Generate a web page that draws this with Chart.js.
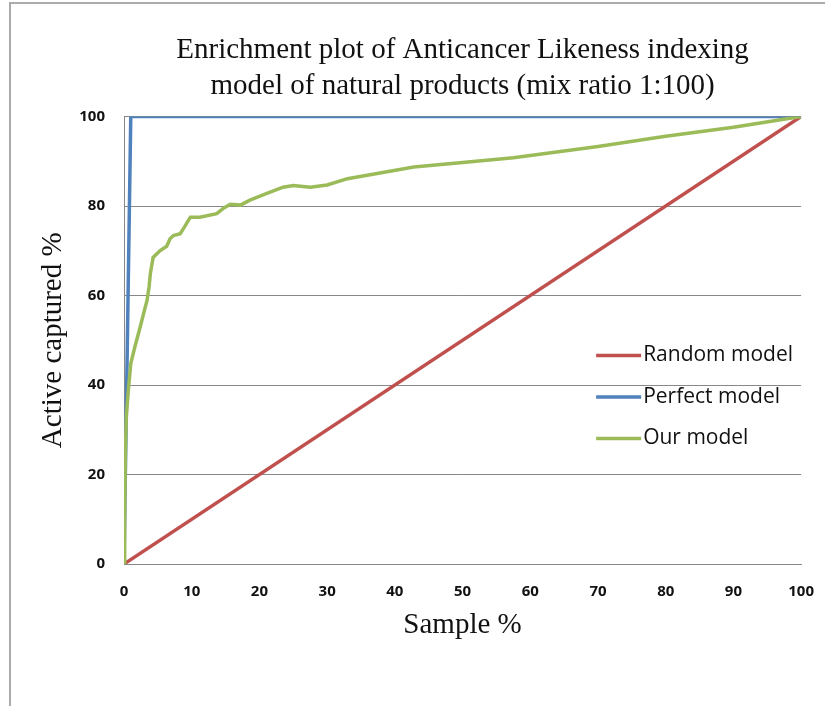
<!DOCTYPE html>
<html lang="en">
<head>
    <meta charset="UTF-8">
    <title>Enrichment plot</title>
    <script src="https://cdn.jsdelivr.net/npm/chart.js"></script>
    <style>
        body { margin: 0; background: #fff; }
        canvas { display: block; }
    </style>
</head>
<body>
    <canvas id="enrichChart" width="825" height="706"></canvas>
    <script>
        // Dados (Sample %, Active captured %)
        const seriesNames = ['Random model', 'Perfect model', 'Our model'];
        const seriesColors = ['#C0504D', '#4F81BD', '#9BBB59'];

        const randomX = [0, 100];
        const randomY = [0, 100];

        const perfectX = [0, 1, 100];
        const perfectY = [0, 100, 100];

        const ourX = [0, 0.1, 0.2, 0.35, 0.64, 1.0, 1.6, 2.4, 2.9, 3.4, 3.7, 3.9, 4.3, 5.3, 6.3, 6.8, 7.3,
            8.3, 8.8, 9.8, 11.2, 13.7, 14.7, 15.7, 17.2, 18.6, 21.1, 23.5, 25, 27.5, 30, 33, 42.8, 50,
            57.5, 70, 80, 90, 100];
        const ourY = [0, 10, 25, 33, 38.8, 44.8, 48.5, 53, 56, 58.9, 61.9, 65, 68.5, 70, 71, 72.7, 73.4,
            73.8, 75, 77.5, 77.5, 78.3, 79.5, 80.4, 80.2, 81.3, 82.8, 84.2, 84.6, 84.2, 84.7, 86.1, 88.7, 89.7,
            90.8, 93.3, 95.6, 97.6, 100];

        const xTicks = [0, 10, 20, 30, 40, 50, 60, 70, 80, 90, 100];
        const yTicks = [0, 20, 40, 60, 80, 100];

        function toPoints(xs, ys) {
            return xs.map((x, i) => ({ x: x, y: ys[i] }));
        }

        // Fundo branco e moldura cinza
        const frame = {
            id: 'frame',
            beforeDraw(chart) {
                const c = chart.ctx;
                c.save();
                c.fillStyle = '#fff';
                c.fillRect(0, 0, chart.width, chart.height);
                c.strokeStyle = '#ababab';
                c.lineWidth = 2;
                c.strokeRect(10, 3, chart.width + 20, chart.height + 20);
                c.restore();
            }
        };

        // Legenda dentro da área do gráfico
        const innerLegend = {
            id: 'innerLegend',
            afterDraw(chart) {
                const c = chart.ctx;
                const area = chart.chartArea;
                const x0 = area.right - 205;
                const y0 = area.top + 239;
                c.save();
                c.font = '21px "Open Sans"';
                c.textBaseline = 'middle';
                chart.data.datasets.forEach((ds, i) => {
                    const y = y0 + i * 41.5;
                    c.strokeStyle = ds.borderColor;
                    c.lineWidth = 3.5;
                    c.beginPath();
                    c.moveTo(x0, y);
                    c.lineTo(x0 + 45, y);
                    c.stroke();
                    c.fillStyle = '#111';
                    c.fillText(ds.label, x0 + 47, y);
                });
                c.restore();
            }
        };

        const ctx = document.getElementById('enrichChart').getContext('2d');
        const chart = new Chart(ctx, {
            type: 'scatter',
            data: {
                datasets: [
                    { label: seriesNames[0], data: toPoints(randomX, randomY), borderColor: seriesColors[0], order: 2 },
                    { label: seriesNames[1], data: toPoints(perfectX, perfectY), borderColor: seriesColors[1], order: 1 },
                    { label: seriesNames[2], data: toPoints(ourX, ourY), borderColor: seriesColors[2], order: 0 }
                ].map(ds => Object.assign(ds, {
                    showLine: true,
                    pointRadius: 0,
                    borderWidth: 3.5,
                    tension: 0,
                    backgroundColor: ds.borderColor
                }))
            },
            options: {
                responsive: false,
                animation: false,
                layout: { padding: { top: 32, right: 19, bottom: 0, left: 0 } },
                plugins: {
                    legend: { display: false },
                    tooltip: { enabled: false },
                    title: {
                        display: true,
                        fullSize: false,
                        text: ['Enrichment plot of Anticancer Likeness indexing',
                               'model of natural products (mix ratio 1:100)'],
                        color: '#111',
                        font: { family: '"Liberation Serif"', size: 29, weight: 'normal', lineHeight: 1.25 },
                        padding: { top: 0, bottom: 12 }
                    }
                },
                scales: {
                    x: {
                        type: 'linear',
                        min: 0,
                        max: 100,
                        afterBuildTicks: s => { s.ticks = xTicks.map(v => ({ value: v })); },
                        afterFit: s => { s.height = 142; },
                        grid: { display: false },
                        border: { display: true, color: '#888', width: 1 },
                        ticks: {
                            padding: 11,
                            color: '#111',
                            font: { family: '"Open Sans"', size: 15, weight: 'bold' }
                        },
                        title: {
                            display: true,
                            text: 'Sample %',
                            color: '#111',
                            font: { family: '"Liberation Serif"', size: 29 },
                            padding: { top: 0, bottom: 63 }
                        }
                    },
                    y: {
                        type: 'linear',
                        min: 0,
                        max: 100,
                        afterBuildTicks: s => { s.ticks = yTicks.map(v => ({ value: v })); },
                        afterFit: s => { s.width = 124; },
                        grid: { color: '#888', lineWidth: 1, drawTicks: false },
                        border: { display: true, color: '#888', width: 1 },
                        ticks: {
                            padding: 19,
                            color: '#111',
                            font: { family: '"Open Sans"', size: 15, weight: 'bold' }
                        },
                        title: {
                            display: true,
                            text: 'Active captured %',
                            color: '#111',
                            font: { family: '"Liberation Serif"', size: 29 },
                            padding: { top: 36, bottom: 0 }
                        }
                    }
                }
            },
            plugins: [frame, innerLegend]
        });
    </script>
</body>
</html>
